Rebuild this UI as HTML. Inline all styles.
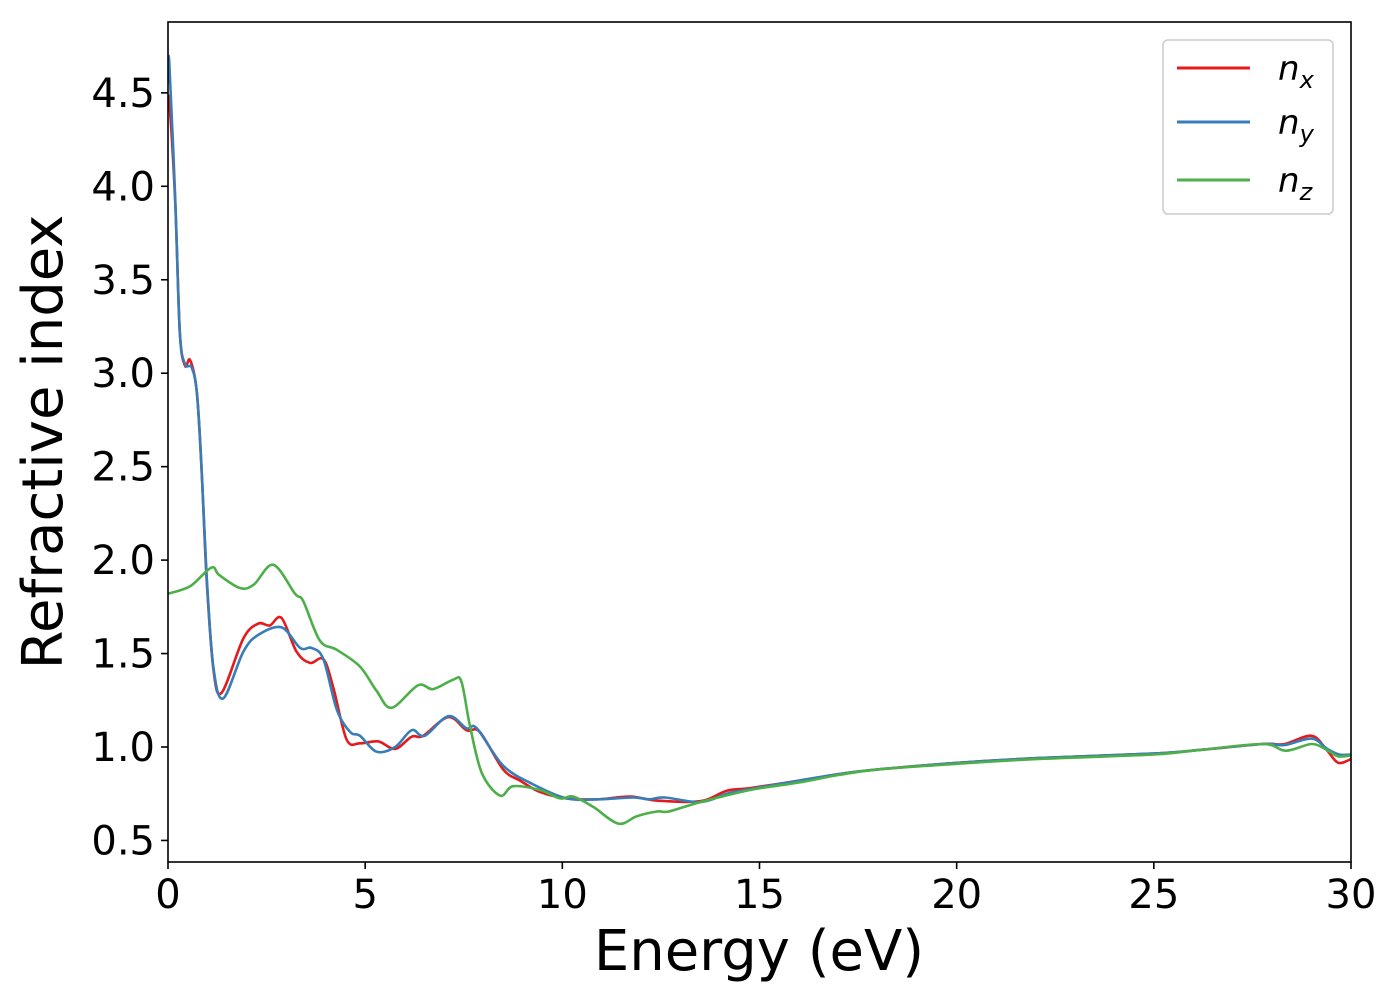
<!DOCTYPE html>
<html><head><meta charset="utf-8"><style>
html,body{margin:0;padding:0;background:#fff;}
svg text{font-family:"DejaVu Sans","Liberation Sans",sans-serif;}
</style></head><body>
<svg id="chart" width="1400" height="1000" viewBox="0 0 1400 1000" xmlns="http://www.w3.org/2000/svg">
<rect x="0" y="0" width="1400" height="1000" fill="#fff"/>
<g id="series"></g>
<rect x="168" y="22" width="1183" height="840" fill="none" stroke="#000" stroke-width="1.6"/>
<g id="xticks"></g>
<g id="yticks"></g>
<text x="759" y="970" font-size="56" text-anchor="middle">Energy (eV)</text>
<text transform="translate(62,442) rotate(-90)" font-size="56" text-anchor="middle">Refractive index</text>
<g>
<rect x="1163" y="40" width="170" height="174" rx="5" fill="#fff" fill-opacity="0.8" stroke="#ccc" stroke-width="1.5"/>
<line x1="1177" y1="68" x2="1250" y2="68" stroke="#e41a1c" stroke-width="3"/>
<line x1="1177" y1="122" x2="1250" y2="122" stroke="#377eb8" stroke-width="3"/>
<line x1="1177" y1="180" x2="1250" y2="180" stroke="#4daf4a" stroke-width="3"/>
<text x="1278" y="80" font-size="34" font-style="italic">n<tspan font-size="24" dy="8">x</tspan></text>
<text x="1278" y="134" font-size="34" font-style="italic">n<tspan font-size="24" dy="8">y</tspan></text>
<text x="1278" y="192" font-size="34" font-style="italic">n<tspan font-size="24" dy="8">z</tspan></text>
</g>
</svg>
<script>
const xTicks = [0,5,10,15,20,25,30];
const yTicks = [0.5,1.0,1.5,2.0,2.5,3.0,3.5,4.0,4.5];
const nxE = [0,0.03,0.18,0.3,0.43,0.56,0.73,0.85,0.98,1.15,1.36,1.91,2.29,2.58,2.88,3.26,3.6,3.94,4.19,4.53,4.87,5.33,5.76,6.18,6.47,7.11,7.57,7.91,8.5,8.93,9.43,10.11,10.9,11.72,12.4,13.5,14.17,14.76,16,17,18,20,22,25,26.2,27.77,28.3,29.0,29.38,29.67,30];
const nxV = [4.4,4.46,3.93,3.22,3.04,3.07,2.9,2.49,1.9,1.42,1.29,1.58,1.66,1.65,1.69,1.51,1.45,1.47,1.32,1.04,1.02,1.03,0.99,1.055,1.06,1.16,1.09,1.08,0.88,0.82,0.76,0.725,0.72,0.735,0.713,0.71,0.766,0.78,0.82,0.855,0.88,0.915,0.94,0.965,0.985,1.016,1.015,1.06,0.985,0.916,0.935];
const nyE = [0,0.03,0.18,0.3,0.43,0.6,0.73,0.85,0.98,1.15,1.4,1.91,2.29,2.88,3.35,3.64,3.94,4.28,4.62,4.87,5.29,5.76,6.18,6.51,7.11,7.57,7.83,8.5,9.26,10.11,10.9,11.8,12.2,12.6,13.5,14.17,14.76,16,17,18,20,22,25,26.2,27.77,28.3,29.0,29.4,29.7,30];
const nyV = [4.55,4.67,3.95,3.22,3.05,3.03,2.9,2.5,1.92,1.43,1.26,1.51,1.6,1.64,1.53,1.53,1.47,1.2,1.08,1.06,0.975,1.0,1.09,1.06,1.165,1.1,1.1,0.9,0.8,0.725,0.72,0.73,0.72,0.73,0.705,0.75,0.775,0.82,0.855,0.88,0.915,0.94,0.965,0.985,1.016,1.01,1.045,0.99,0.96,0.96];
const nzE = [0,0.56,1.1,1.3,1.83,2.18,2.67,3.22,3.43,3.85,4.28,4.87,5.29,5.67,6.34,6.72,7.23,7.44,7.66,7.96,8.42,8.75,9.43,9.94,10.27,10.78,11.42,11.89,12.4,12.7,13.5,14.76,16,17,18,20,22,25,26.2,27.77,28.35,29.0,29.38,29.67,30];
const nzV = [1.82,1.86,1.96,1.92,1.85,1.87,1.975,1.82,1.78,1.57,1.52,1.43,1.3,1.21,1.33,1.31,1.36,1.35,1.11,0.86,0.74,0.79,0.77,0.725,0.735,0.68,0.59,0.63,0.655,0.655,0.705,0.77,0.81,0.85,0.88,0.91,0.935,0.96,0.985,1.016,0.98,1.016,0.985,0.95,0.955];

const X0=168,X1=1351;
function xs(e){return X0+(e-0)/(30-0)*(X1-X0);}
function ys(v){return 747-(v-1)*186.9;}
const NS="http://www.w3.org/2000/svg";
function mk(tag,attrs,parent){const el=document.createElementNS(NS,tag);for(const k in attrs)el.setAttribute(k,attrs[k]);parent.appendChild(el);return el;}

const xg=document.getElementById('xticks');
xTicks.forEach(t=>{
  const l=mk('line',{x1:xs(t),x2:xs(t),y1:862,y2:869,stroke:'#000','stroke-width':1.6},xg);
  
  
  const tx=mk('text',{x:xs(t),y:908,'font-size':40,'text-anchor':'middle'},xg);
  tx.textContent=String(t);
  
  
});
const yg=document.getElementById('yticks');
yTicks.forEach(t=>{
  const l=mk('line',{x1:161,x2:168,y1:ys(t),y2:ys(t),stroke:'#000','stroke-width':1.6},yg);
  
  
  const tx=mk('text',{x:155,y:ys(t)+14,'font-size':40,'text-anchor':'end'},yg);
  tx.textContent=t.toFixed(1);
  
  
});

function pathFor(E,V){
  const p=E.map((e,i)=>[xs(e),ys(V[i])]);
  let d='M'+p[0][0].toFixed(1)+','+p[0][1].toFixed(1);
  for(let i=0;i<p.length-1;i++){
    const p0=p[Math.max(0,i-1)],p1=p[i],p2=p[i+1],p3=p[Math.min(p.length-1,i+2)];
    const c1x=p1[0]+(p2[0]-p0[0])/6,c1y=p1[1]+(p2[1]-p0[1])/6;
    const c2x=p2[0]-(p3[0]-p1[0])/6,c2y=p2[1]-(p3[1]-p1[1])/6;
    d+=' C'+c1x.toFixed(1)+','+c1y.toFixed(1)+' '+c2x.toFixed(1)+','+c2y.toFixed(1)+' '+p2[0].toFixed(1)+','+p2[1].toFixed(1);
  }
  return d;
}
const sg=document.getElementById('series');
const defs=mk('defs',{},sg);
const cp=mk('clipPath',{id:'clip'},defs);
mk('rect',{x:168,y:22,width:1183,height:840},cp);
const series=[[nxE,nxV,'#e41a1c','line-nx'],[nyE,nyV,'#377eb8','line-ny'],[nzE,nzV,'#4daf4a','line-nz']];
series.forEach(s=>{
  const p=mk('path',{d:pathFor(s[0],s[1]),fill:'none',stroke:s[2],'stroke-width':2.6,'clip-path':'url(#clip)','stroke-linejoin':'round'},sg);
  
  
});
</script>
</body></html>
